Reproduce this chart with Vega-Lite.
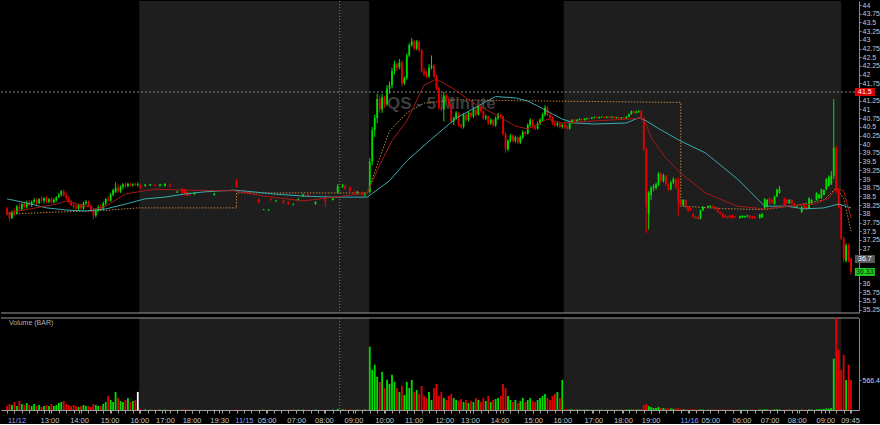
{
"$schema": "https://vega.github.io/schema/vega-lite/v6.json",
"background": "#000000",
"padding": 0,
"spacing": 3,
"config": {"view": {"stroke": null}, "font": "Liberation Sans", "axis": {"grid": false, "domainColor": "#8a8a8a", "tickColor": "#8a8a8a", "labelColor": "#c4c4c4", "labelFontSize": 7, "tickSize": 2, "labelPadding": 1, "labelOverlap": false, "labelFlush": false, "tickCount": 1000}},
"datasets": {
"sess": [{"a": 53.6, "b": 146.8}, {"a": 225.6, "b": 338}],
"tags": [{"p": 41.5, "txt": "41.5", "kind": "red"}, {"p": 36.7, "txt": "36.7", "kind": "gray"}, {"p": 36.33, "txt": "36.33", "kind": "green"}],
"sma": [{"t":0,"p":38.43},{"t":8,"p":38.31},{"t":16,"p":38.17},{"t":24,"p":38.11},{"t":32,"p":38.08},{"t":40,"p":38.14},{"t":48,"p":38.28},{"t":56,"p":38.43},{"t":64,"p":38.48},{"t":72,"p":38.57},{"t":80,"p":38.63},{"t":92,"p":38.68},{"t":100,"p":38.63},{"t":108,"p":38.57},{"t":120,"p":38.51},{"t":132,"p":38.48},{"t":146,"p":38.48},{"t":155,"p":38.95},{"t":162,"p":39.52},{"t":172,"p":40.15},{"t":182,"p":40.75},{"t":193,"p":41.18},{"t":198,"p":41.37},{"t":206,"p":41.33},{"t":211,"p":41.24},{"t":215,"p":41.1},{"t":221,"p":40.87},{"t":225,"p":40.72},{"t":230,"p":40.61},{"t":238,"p":40.58},{"t":251,"p":40.61},{"t":256,"p":40.76},{"t":259,"p":40.67},{"t":264,"p":40.45},{"t":273,"p":40.09},{"t":283,"p":39.75},{"t":296,"p":39.0},{"t":307,"p":38.22},{"t":316,"p":38.22},{"t":323,"p":38.14},{"t":331,"p":38.17},{"t":337,"p":38.28},{"t":342,"p":38.17}],
"ema": [{"t":0,"p":38.02},{"t":10,"p":38.15},{"t":20,"p":38.28},{"t":24,"p":38.37},{"t":32,"p":38.22},{"t":36,"p":38.14},{"t":40,"p":38.22},{"t":48,"p":38.57},{"t":60,"p":38.71},{"t":72,"p":38.68},{"t":92,"p":38.66},{"t":104,"p":38.51},{"t":120,"p":38.37},{"t":136,"p":38.51},{"t":146,"p":38.6},{"t":151,"p":39.4},{"t":156,"p":40.1},{"t":162,"p":40.67},{"t":169,"p":41.7},{"t":174,"p":41.87},{"t":181,"p":41.59},{"t":189,"p":41.18},{"t":198,"p":40.85},{"t":206,"p":40.52},{"t":211,"p":40.44},{"t":219,"p":40.72},{"t":225,"p":40.61},{"t":238,"p":40.67},{"t":251,"p":40.72},{"t":257,"p":40.75},{"t":259,"p":40.58},{"t":261,"p":40.18},{"t":267,"p":39.6},{"t":273,"p":39.17},{"t":283,"p":38.6},{"t":296,"p":38.22},{"t":307,"p":38.14},{"t":316,"p":38.22},{"t":327,"p":38.28},{"t":333,"p":38.45},{"t":336,"p":38.74},{"t":339,"p":38.66},{"t":342,"p":37.88}],
"vw": [{"k":0,"t":0,"p":37.99},{"k":1,"t":20,"p":38.05},{"k":2,"t":40,"p":38.1},{"k":3,"t":53,"p":38.17},{"k":4,"t":93,"p":38.17},{"k":5,"t":93,"p":38.6},{"k":6,"t":146,"p":38.6},{"k":7,"t":151,"p":39.6},{"k":8,"t":155,"p":40.38},{"k":9,"t":162,"p":40.9},{"k":10,"t":169,"p":41.18},{"k":11,"t":182,"p":41.28},{"k":12,"t":206,"p":41.25},{"k":13,"t":273,"p":41.2},{"k":14,"t":273,"p":38.22},{"k":15,"t":290,"p":38.15},{"k":16,"t":307,"p":38.12},{"k":17,"t":320,"p":38.25},{"k":18,"t":331,"p":38.4},{"k":19,"t":336,"p":38.74},{"k":20,"t":339,"p":38.45},{"k":21,"t":342,"p":37.5}],
"k": [
{"t":0,"o":38.15,"h":38.2,"l":37.95,"c":38.0,"v":76},
{"t":1,"o":38.0,"h":38.05,"l":37.8,"c":37.88,"v":114},
{"t":2,"o":37.88,"h":38.1,"l":37.85,"c":38.05,"v":95},
{"t":3,"o":38.05,"h":38.15,"l":37.95,"c":38.0,"v":152},
{"t":4,"o":38.0,"h":38.25,"l":37.98,"c":38.2,"v":76},
{"t":5,"o":38.2,"h":38.3,"l":38.1,"c":38.15,"v":171},
{"t":6,"o":38.12,"h":38.32,"l":38.1,"c":38.28,"v":114},
{"t":7,"o":38.28,"h":38.35,"l":38.15,"c":38.2,"v":95},
{"t":8,"o":38.2,"h":38.38,"l":38.15,"c":38.32,"v":133},
{"t":9,"o":38.32,"h":38.4,"l":38.22,"c":38.25,"v":95},
{"t":10,"o":38.25,"h":38.38,"l":38.2,"c":38.35,"v":76},
{"t":11,"o":38.35,"h":38.45,"l":38.3,"c":38.4,"v":114},
{"t":12,"o":38.4,"h":38.45,"l":38.25,"c":38.3,"v":76},
{"t":13,"o":38.3,"h":38.45,"l":38.28,"c":38.42,"v":95},
{"t":14,"o":38.42,"h":38.5,"l":38.35,"c":38.38,"v":57},
{"t":15,"o":38.38,"h":38.48,"l":38.3,"c":38.45,"v":76},
{"t":16,"o":38.45,"h":38.5,"l":38.3,"c":38.35,"v":95},
{"t":17,"o":38.35,"h":38.45,"l":38.3,"c":38.42,"v":76},
{"t":18,"o":38.42,"h":38.48,"l":38.3,"c":38.33,"v":114},
{"t":19,"o":38.33,"h":38.45,"l":38.3,"c":38.4,"v":76},
{"t":20,"o":38.4,"h":38.5,"l":38.35,"c":38.48,"v":95},
{"t":21,"o":38.48,"h":38.6,"l":38.45,"c":38.55,"v":133},
{"t":22,"o":38.55,"h":38.68,"l":38.5,"c":38.65,"v":152},
{"t":23,"o":38.65,"h":38.7,"l":38.5,"c":38.52,"v":171},
{"t":24,"o":38.52,"h":38.6,"l":38.4,"c":38.45,"v":114},
{"t":25,"o":38.45,"h":38.5,"l":38.3,"c":38.35,"v":95},
{"t":26,"o":38.35,"h":38.4,"l":38.22,"c":38.25,"v":76},
{"t":27,"o":38.25,"h":38.32,"l":38.15,"c":38.2,"v":95},
{"t":28,"o":38.2,"h":38.3,"l":38.12,"c":38.15,"v":76},
{"t":29,"o":38.15,"h":38.28,"l":38.1,"c":38.25,"v":57},
{"t":30,"o":38.25,"h":38.3,"l":38.12,"c":38.15,"v":76},
{"t":31,"o":38.15,"h":38.35,"l":38.12,"c":38.3,"v":95},
{"t":32,"o":38.3,"h":38.4,"l":38.25,"c":38.35,"v":76},
{"t":33,"o":38.35,"h":38.38,"l":38.2,"c":38.22,"v":76},
{"t":34,"o":38.22,"h":38.28,"l":38.05,"c":38.1,"v":57},
{"t":35,"o":38.1,"h":38.15,"l":37.85,"c":37.95,"v":114},
{"t":36,"o":37.95,"h":38.15,"l":37.9,"c":38.1,"v":95},
{"t":37,"o":38.1,"h":38.25,"l":38.05,"c":38.2,"v":76},
{"t":38,"o":38.2,"h":38.28,"l":38.1,"c":38.15,"v":76},
{"t":39,"o":38.15,"h":38.35,"l":38.12,"c":38.3,"v":114},
{"t":40,"o":38.3,"h":38.45,"l":38.25,"c":38.42,"v":152},
{"t":41,"o":38.42,"h":38.5,"l":38.35,"c":38.38,"v":266},
{"t":42,"o":38.38,"h":38.6,"l":38.35,"c":38.55,"v":190},
{"t":43,"o":38.55,"h":38.72,"l":38.5,"c":38.68,"v":152},
{"t":44,"o":38.62,"h":38.9,"l":38.6,"c":38.75,"v":342},
{"t":45,"o":38.75,"h":38.85,"l":38.6,"c":38.65,"v":228},
{"t":46,"o":38.65,"h":38.82,"l":38.6,"c":38.78,"v":171},
{"t":47,"o":38.78,"h":38.88,"l":38.7,"c":38.84,"v":152},
{"t":48,"o":38.84,"h":38.9,"l":38.75,"c":38.8,"v":190},
{"t":49,"o":38.8,"h":38.9,"l":38.76,"c":38.86,"v":228},
{"t":50,"o":38.86,"h":38.9,"l":38.78,"c":38.82,"v":152},
{"t":51,"o":38.82,"h":38.88,"l":38.78,"c":38.85,"v":171},
{"t":52,"o":38.85,"h":38.9,"l":38.8,"c":38.83,"v":190},
{"t":53,"o":38.83,"h":38.9,"l":38.78,"c":38.86,"v":342},
{"t":54,"o":38.82,"h":38.86,"l":38.7,"c":38.74,"v":19},
{"t":56,"o":38.8,"h":38.86,"l":38.78,"c":38.84,"v":10},
{"t":58,"o":38.82,"h":38.86,"l":38.8,"c":38.85,"v":8},
{"t":60,"o":38.84,"h":38.87,"l":38.8,"c":38.81,"v":8},
{"t":62,"o":38.8,"h":38.86,"l":38.78,"c":38.84,"v":8},
{"t":64,"o":38.8,"h":38.88,"l":38.78,"c":38.86,"v":10},
{"t":66,"o":38.84,"h":38.88,"l":38.76,"c":38.78,"v":8},
{"t":69,"o":38.61,"h":38.66,"l":38.6,"c":38.64,"v":6},
{"t":71,"o":38.72,"h":38.74,"l":38.58,"c":38.6,"v":10},
{"t":72,"o":38.7,"h":38.72,"l":38.52,"c":38.55,"v":10},
{"t":73,"o":38.64,"h":38.68,"l":38.5,"c":38.52,"v":8},
{"t":74,"o":38.58,"h":38.62,"l":38.5,"c":38.54,"v":6},
{"t":76,"o":38.56,"h":38.63,"l":38.54,"c":38.62,"v":6},
{"t":84,"o":38.54,"h":38.6,"l":38.52,"c":38.58,"v":6},
{"t":93,"o":38.95,"h":39.0,"l":38.75,"c":38.78,"v":12},
{"t":96,"o":38.65,"h":38.68,"l":38.6,"c":38.62,"v":6},
{"t":98,"o":38.64,"h":38.66,"l":38.58,"c":38.6,"v":6},
{"t":102,"o":38.42,"h":38.44,"l":38.3,"c":38.32,"v":8},
{"t":104,"o":38.11,"h":38.14,"l":38.1,"c":38.13,"v":6},
{"t":106,"o":38.1,"h":38.13,"l":38.08,"c":38.12,"v":6},
{"t":107,"o":38.42,"h":38.45,"l":38.38,"c":38.39,"v":6},
{"t":109,"o":38.36,"h":38.4,"l":38.34,"c":38.38,"v":6},
{"t":112,"o":38.38,"h":38.4,"l":38.28,"c":38.3,"v":8},
{"t":114,"o":38.34,"h":38.36,"l":38.26,"c":38.28,"v":8},
{"t":116,"o":38.26,"h":38.3,"l":38.24,"c":38.28,"v":6},
{"t":118,"o":38.38,"h":38.45,"l":38.36,"c":38.42,"v":8},
{"t":120,"o":38.5,"h":38.58,"l":38.48,"c":38.55,"v":10},
{"t":122,"o":38.55,"h":38.58,"l":38.48,"c":38.5,"v":8},
{"t":125,"o":38.28,"h":38.36,"l":38.26,"c":38.34,"v":8},
{"t":129,"o":38.42,"h":38.55,"l":38.2,"c":38.35,"v":10},
{"t":132,"o":38.4,"h":38.48,"l":38.38,"c":38.45,"v":10},
{"t":134,"o":38.6,"h":38.86,"l":38.58,"c":38.8,"v":20},
{"t":136,"o":38.78,"h":38.86,"l":38.74,"c":38.82,"v":15},
{"t":137,"o":38.8,"h":38.84,"l":38.7,"c":38.72,"v":12},
{"t":139,"o":38.75,"h":38.8,"l":38.62,"c":38.65,"v":12},
{"t":141,"o":38.62,"h":38.68,"l":38.55,"c":38.6,"v":10},
{"t":142,"o":38.6,"h":38.66,"l":38.55,"c":38.64,"v":10},
{"t":144,"o":38.62,"h":38.64,"l":38.52,"c":38.55,"v":10},
{"t":145,"o":38.55,"h":38.62,"l":38.5,"c":38.6,"v":12},
{"t":147,"o":38.62,"h":39.6,"l":38.58,"c":39.5,"v":1197},
{"t":148,"o":39.5,"h":40.5,"l":39.4,"c":40.4,"v":760},
{"t":149,"o":40.4,"h":40.85,"l":40.2,"c":40.75,"v":855},
{"t":150,"o":40.75,"h":41.45,"l":40.6,"c":41.3,"v":627},
{"t":151,"o":41.3,"h":41.4,"l":40.9,"c":41.0,"v":532},
{"t":152,"o":41.0,"h":41.45,"l":40.9,"c":41.35,"v":722},
{"t":153,"o":41.35,"h":41.4,"l":41.05,"c":41.15,"v":418},
{"t":154,"o":41.15,"h":41.7,"l":41.1,"c":41.6,"v":570},
{"t":155,"o":41.6,"h":41.8,"l":41.45,"c":41.7,"v":494},
{"t":156,"o":41.7,"h":42.2,"l":41.6,"c":42.1,"v":665},
{"t":157,"o":42.1,"h":42.4,"l":42.0,"c":42.3,"v":532},
{"t":158,"o":42.3,"h":42.35,"l":42.1,"c":42.2,"v":418},
{"t":159,"o":42.2,"h":42.45,"l":42.15,"c":42.35,"v":342},
{"t":160,"o":42.35,"h":42.4,"l":41.65,"c":41.75,"v":456},
{"t":161,"o":41.75,"h":41.95,"l":41.7,"c":41.9,"v":285},
{"t":162,"o":41.9,"h":42.6,"l":41.85,"c":42.55,"v":532},
{"t":163,"o":42.55,"h":42.9,"l":42.5,"c":42.85,"v":418},
{"t":164,"o":42.85,"h":43.05,"l":42.8,"c":42.95,"v":570},
{"t":165,"o":42.95,"h":43.0,"l":42.7,"c":42.75,"v":342},
{"t":166,"o":42.75,"h":43.0,"l":42.7,"c":42.95,"v":380},
{"t":167,"o":42.95,"h":42.98,"l":42.65,"c":42.7,"v":304},
{"t":168,"o":42.7,"h":42.75,"l":42.05,"c":42.1,"v":456},
{"t":169,"o":42.1,"h":42.2,"l":41.95,"c":42.0,"v":266},
{"t":170,"o":42.0,"h":42.1,"l":41.9,"c":41.95,"v":228},
{"t":171,"o":41.95,"h":42.3,"l":41.9,"c":42.2,"v":342},
{"t":172,"o":42.2,"h":42.55,"l":42.15,"c":42.25,"v":190},
{"t":173,"o":42.25,"h":42.3,"l":41.9,"c":41.95,"v":418},
{"t":174,"o":41.95,"h":42.0,"l":41.55,"c":41.6,"v":494},
{"t":175,"o":41.6,"h":41.65,"l":41.0,"c":41.05,"v":266},
{"t":176,"o":41.05,"h":41.45,"l":40.95,"c":41.0,"v":342},
{"t":177,"o":41.0,"h":41.5,"l":40.65,"c":41.4,"v":228},
{"t":178,"o":41.4,"h":41.45,"l":41.25,"c":41.3,"v":190},
{"t":179,"o":41.3,"h":41.35,"l":41.1,"c":41.15,"v":266},
{"t":180,"o":41.15,"h":41.2,"l":40.6,"c":40.65,"v":304},
{"t":181,"o":40.65,"h":40.8,"l":40.55,"c":40.75,"v":228},
{"t":182,"o":40.75,"h":40.95,"l":40.7,"c":40.9,"v":190},
{"t":183,"o":40.9,"h":40.92,"l":40.5,"c":40.55,"v":171},
{"t":184,"o":40.55,"h":40.6,"l":40.45,"c":40.5,"v":209},
{"t":185,"o":40.5,"h":40.9,"l":40.45,"c":40.85,"v":152},
{"t":186,"o":40.85,"h":40.88,"l":40.65,"c":40.7,"v":190},
{"t":187,"o":40.7,"h":40.95,"l":40.65,"c":40.9,"v":133},
{"t":188,"o":40.9,"h":40.93,"l":40.75,"c":40.8,"v":171},
{"t":189,"o":40.8,"h":41.05,"l":40.75,"c":41.0,"v":152},
{"t":190,"o":41.0,"h":41.02,"l":40.8,"c":40.85,"v":228},
{"t":191,"o":40.85,"h":41.12,"l":40.82,"c":41.1,"v":190},
{"t":192,"o":41.1,"h":41.12,"l":40.9,"c":40.95,"v":152},
{"t":193,"o":40.95,"h":40.98,"l":40.7,"c":40.75,"v":228},
{"t":194,"o":40.75,"h":40.85,"l":40.7,"c":40.8,"v":171},
{"t":195,"o":40.8,"h":40.82,"l":40.55,"c":40.6,"v":266},
{"t":196,"o":40.6,"h":40.75,"l":40.55,"c":40.7,"v":152},
{"t":197,"o":40.7,"h":40.72,"l":40.5,"c":40.55,"v":190},
{"t":198,"o":40.55,"h":40.8,"l":40.5,"c":40.75,"v":209},
{"t":199,"o":40.75,"h":40.9,"l":40.7,"c":40.85,"v":228},
{"t":200,"o":40.85,"h":40.88,"l":40.75,"c":40.8,"v":266},
{"t":201,"o":40.8,"h":40.82,"l":40.25,"c":40.3,"v":494},
{"t":202,"o":40.3,"h":40.35,"l":39.75,"c":39.85,"v":418},
{"t":203,"o":39.85,"h":40.15,"l":39.8,"c":40.1,"v":266},
{"t":204,"o":40.1,"h":40.3,"l":40.05,"c":40.25,"v":190},
{"t":205,"o":40.25,"h":40.28,"l":40.05,"c":40.1,"v":152},
{"t":206,"o":40.1,"h":40.25,"l":40.05,"c":40.2,"v":190},
{"t":207,"o":40.2,"h":40.22,"l":40.0,"c":40.05,"v":133},
{"t":208,"o":40.05,"h":40.25,"l":40.0,"c":40.2,"v":171},
{"t":209,"o":40.2,"h":40.4,"l":40.15,"c":40.35,"v":228},
{"t":210,"o":40.35,"h":40.38,"l":40.25,"c":40.3,"v":152},
{"t":211,"o":40.3,"h":40.6,"l":40.28,"c":40.55,"v":190},
{"t":212,"o":40.55,"h":40.75,"l":40.5,"c":40.7,"v":228},
{"t":213,"o":40.7,"h":40.72,"l":40.45,"c":40.5,"v":171},
{"t":214,"o":40.5,"h":40.55,"l":40.4,"c":40.45,"v":152},
{"t":215,"o":40.45,"h":40.65,"l":40.42,"c":40.6,"v":190},
{"t":216,"o":40.6,"h":40.75,"l":40.55,"c":40.7,"v":228},
{"t":217,"o":40.7,"h":40.9,"l":40.65,"c":40.85,"v":266},
{"t":218,"o":40.85,"h":41.12,"l":40.8,"c":41.05,"v":304},
{"t":219,"o":41.05,"h":41.1,"l":40.8,"c":40.85,"v":228},
{"t":220,"o":40.85,"h":40.9,"l":40.7,"c":40.75,"v":190},
{"t":221,"o":40.75,"h":40.8,"l":40.55,"c":40.6,"v":266},
{"t":222,"o":40.6,"h":40.65,"l":40.5,"c":40.55,"v":304},
{"t":223,"o":40.55,"h":40.65,"l":40.5,"c":40.6,"v":342},
{"t":224,"o":40.6,"h":40.62,"l":40.45,"c":40.5,"v":228},
{"t":225,"o":40.5,"h":40.6,"l":40.45,"c":40.55,"v":570},
{"t":226,"o":40.55,"h":40.6,"l":40.45,"c":40.5,"v":20},
{"t":227,"o":40.5,"h":40.55,"l":40.42,"c":40.45,"v":15},
{"t":228,"o":40.45,"h":40.62,"l":40.42,"c":40.6,"v":15},
{"t":229,"o":40.6,"h":40.72,"l":40.58,"c":40.7,"v":12},
{"t":230,"o":40.7,"h":40.72,"l":40.6,"c":40.65,"v":10},
{"t":231,"o":40.65,"h":40.72,"l":40.62,"c":40.7,"v":10},
{"t":232,"o":40.7,"h":40.75,"l":40.68,"c":40.72,"v":8},
{"t":233,"o":40.72,"h":40.74,"l":40.68,"c":40.7,"v":8},
{"t":234,"o":40.7,"h":40.75,"l":40.68,"c":40.73,"v":8},
{"t":235,"o":40.73,"h":40.76,"l":40.7,"c":40.75,"v":8},
{"t":236,"o":40.75,"h":40.77,"l":40.72,"c":40.73,"v":6},
{"t":237,"o":40.73,"h":40.78,"l":40.72,"c":40.76,"v":6},
{"t":238,"o":40.76,"h":40.8,"l":40.74,"c":40.78,"v":6},
{"t":239,"o":40.78,"h":40.79,"l":40.73,"c":40.75,"v":6},
{"t":240,"o":40.75,"h":40.8,"l":40.74,"c":40.78,"v":6},
{"t":241,"o":40.78,"h":40.8,"l":40.76,"c":40.79,"v":6},
{"t":242,"o":40.79,"h":40.8,"l":40.74,"c":40.76,"v":6},
{"t":243,"o":40.76,"h":40.8,"l":40.75,"c":40.79,"v":6},
{"t":244,"o":40.79,"h":40.8,"l":40.75,"c":40.76,"v":6},
{"t":245,"o":40.76,"h":40.8,"l":40.75,"c":40.79,"v":6},
{"t":246,"o":40.79,"h":40.8,"l":40.74,"c":40.75,"v":6},
{"t":247,"o":40.75,"h":40.79,"l":40.74,"c":40.78,"v":6},
{"t":248,"o":40.78,"h":40.79,"l":40.73,"c":40.74,"v":6},
{"t":249,"o":40.74,"h":40.78,"l":40.73,"c":40.77,"v":6},
{"t":250,"o":40.77,"h":40.78,"l":40.72,"c":40.74,"v":6},
{"t":251,"o":40.74,"h":40.8,"l":40.73,"c":40.79,"v":8},
{"t":252,"o":40.79,"h":40.88,"l":40.78,"c":40.86,"v":8},
{"t":253,"o":40.86,"h":40.97,"l":40.85,"c":40.95,"v":10},
{"t":254,"o":40.95,"h":40.97,"l":40.88,"c":40.9,"v":8},
{"t":255,"o":40.9,"h":40.96,"l":40.88,"c":40.94,"v":8},
{"t":256,"o":40.94,"h":40.98,"l":40.9,"c":40.96,"v":10},
{"t":257,"o":40.96,"h":40.97,"l":40.72,"c":40.75,"v":20},
{"t":258,"o":40.75,"h":40.78,"l":39.8,"c":39.85,"v":95},
{"t":259,"o":39.85,"h":39.9,"l":37.45,"c":38.2,"v":114},
{"t":260,"o":38.0,"h":38.65,"l":37.55,"c":38.6,"v":76},
{"t":261,"o":38.55,"h":38.8,"l":38.4,"c":38.75,"v":57},
{"t":262,"o":38.75,"h":38.85,"l":38.65,"c":38.8,"v":38},
{"t":263,"o":38.75,"h":38.9,"l":38.7,"c":38.85,"v":38},
{"t":264,"o":38.85,"h":39.2,"l":38.8,"c":39.15,"v":57},
{"t":265,"o":39.15,"h":39.18,"l":38.9,"c":38.95,"v":38},
{"t":266,"o":38.95,"h":39.15,"l":38.9,"c":39.1,"v":38},
{"t":267,"o":39.1,"h":39.12,"l":38.8,"c":38.85,"v":30},
{"t":268,"o":38.85,"h":38.88,"l":38.65,"c":38.7,"v":30},
{"t":269,"o":38.7,"h":38.95,"l":38.68,"c":38.9,"v":30},
{"t":270,"o":38.9,"h":39.05,"l":38.85,"c":39.0,"v":25},
{"t":271,"o":39.0,"h":39.02,"l":38.7,"c":38.75,"v":25},
{"t":272,"o":38.75,"h":39.05,"l":37.95,"c":38.35,"v":38},
{"t":273,"o":38.37,"h":38.4,"l":38.22,"c":38.28,"v":20},
{"t":274,"o":38.25,"h":38.42,"l":38.22,"c":38.4,"v":15},
{"t":275,"o":38.4,"h":38.42,"l":38.15,"c":38.2,"v":15},
{"t":276,"o":38.2,"h":38.22,"l":38.05,"c":38.1,"v":12},
{"t":277,"o":38.15,"h":38.17,"l":38.08,"c":38.12,"v":10},
{"t":278,"o":38.0,"h":38.02,"l":37.88,"c":37.9,"v":12},
{"t":279,"o":37.92,"h":37.95,"l":37.85,"c":37.87,"v":10},
{"t":280,"o":37.9,"h":37.92,"l":37.84,"c":37.86,"v":10},
{"t":281,"o":37.86,"h":38.12,"l":37.84,"c":38.1,"v":12},
{"t":282,"o":38.1,"h":38.22,"l":38.08,"c":38.2,"v":10},
{"t":284,"o":38.18,"h":38.24,"l":38.16,"c":38.22,"v":6},
{"t":285,"o":38.2,"h":38.24,"l":38.18,"c":38.23,"v":6},
{"t":286,"o":38.22,"h":38.24,"l":38.18,"c":38.19,"v":6},
{"t":287,"o":38.2,"h":38.22,"l":38.12,"c":38.15,"v":8},
{"t":288,"o":38.17,"h":38.18,"l":38.03,"c":38.05,"v":8},
{"t":289,"o":38.05,"h":38.07,"l":37.98,"c":38.0,"v":6},
{"t":290,"o":38.0,"h":38.02,"l":37.88,"c":37.9,"v":8},
{"t":291,"o":37.95,"h":37.97,"l":37.88,"c":37.9,"v":6},
{"t":292,"o":37.92,"h":37.94,"l":37.86,"c":37.88,"v":6},
{"t":293,"o":37.95,"h":37.97,"l":37.88,"c":37.9,"v":6},
{"t":294,"o":37.96,"h":37.98,"l":37.86,"c":37.88,"v":6},
{"t":295,"o":37.92,"h":37.94,"l":37.88,"c":37.9,"v":6},
{"t":297,"o":37.88,"h":37.95,"l":37.86,"c":37.93,"v":6},
{"t":298,"o":37.9,"h":37.96,"l":37.88,"c":37.94,"v":6},
{"t":299,"o":37.9,"h":37.95,"l":37.88,"c":37.93,"v":6},
{"t":300,"o":37.92,"h":37.97,"l":37.9,"c":37.95,"v":6},
{"t":301,"o":37.95,"h":37.96,"l":37.86,"c":37.88,"v":6},
{"t":302,"o":37.92,"h":37.93,"l":37.85,"c":37.87,"v":6},
{"t":303,"o":37.93,"h":37.94,"l":37.86,"c":37.88,"v":6},
{"t":305,"o":37.88,"h":38.0,"l":37.86,"c":37.98,"v":10},
{"t":306,"o":37.9,"h":38.02,"l":37.88,"c":38.0,"v":10},
{"t":307,"o":38.15,"h":38.45,"l":38.12,"c":38.42,"v":15},
{"t":308,"o":38.2,"h":38.42,"l":38.18,"c":38.4,"v":12},
{"t":309,"o":38.45,"h":38.47,"l":38.28,"c":38.3,"v":10},
{"t":310,"o":38.4,"h":38.42,"l":38.3,"c":38.32,"v":10},
{"t":311,"o":38.28,"h":38.52,"l":38.26,"c":38.5,"v":12},
{"t":312,"o":38.5,"h":38.72,"l":38.48,"c":38.7,"v":15},
{"t":313,"o":38.6,"h":38.8,"l":38.58,"c":38.72,"v":12},
{"t":315,"o":38.45,"h":38.47,"l":38.23,"c":38.25,"v":10},
{"t":316,"o":38.4,"h":38.42,"l":38.28,"c":38.3,"v":10},
{"t":317,"o":38.3,"h":38.42,"l":38.28,"c":38.4,"v":8},
{"t":318,"o":38.4,"h":38.42,"l":38.28,"c":38.3,"v":8},
{"t":319,"o":38.3,"h":38.32,"l":38.15,"c":38.17,"v":8},
{"t":320,"o":38.2,"h":38.24,"l":38.18,"c":38.22,"v":6},
{"t":322,"o":38.05,"h":38.22,"l":38.03,"c":38.2,"v":8},
{"t":323,"o":38.28,"h":38.3,"l":38.12,"c":38.14,"v":8},
{"t":324,"o":38.2,"h":38.22,"l":38.13,"c":38.15,"v":8},
{"t":325,"o":38.15,"h":38.47,"l":38.13,"c":38.45,"v":12},
{"t":326,"o":38.3,"h":38.42,"l":38.28,"c":38.4,"v":10},
{"t":328,"o":38.4,"h":38.62,"l":38.38,"c":38.6,"v":15},
{"t":329,"o":38.45,"h":38.57,"l":38.43,"c":38.55,"v":15},
{"t":330,"o":38.45,"h":38.72,"l":38.43,"c":38.7,"v":20},
{"t":331,"o":38.55,"h":38.7,"l":38.53,"c":38.68,"v":20},
{"t":332,"o":38.7,"h":39.02,"l":38.68,"c":39.0,"v":30},
{"t":333,"o":38.8,"h":39.1,"l":38.78,"c":39.05,"v":30},
{"t":334,"o":38.85,"h":39.23,"l":38.83,"c":39.1,"v":38},
{"t":335,"o":39.1,"h":41.3,"l":39.0,"c":39.9,"v":970},
{"t":336,"o":39.9,"h":39.95,"l":38.6,"c":38.65,"v":1740},
{"t":337,"o":38.7,"h":38.75,"l":38.15,"c":38.2,"v":1140},
{"t":338,"o":38.2,"h":38.25,"l":37.25,"c":37.3,"v":760},
{"t":339,"o":37.3,"h":37.35,"l":36.6,"c":36.7,"v":1045},
{"t":340,"o":36.65,"h":37.15,"l":36.6,"c":37.1,"v":570},
{"t":341,"o":37.1,"h":37.15,"l":36.6,"c":36.65,"v":855},
{"t":342,"o":36.7,"h":36.75,"l":36.25,"c":36.33,"v":566.4}
]
},
"vconcat": [
{
"width": 858, "height": 312,
"layer": [
{"data": {"name": "sess"}, "mark": {"type": "rect", "color": "#1e1e1e"},
 "encoding": {"x": {"field": "a", "type": "quantitative", "scale": {"domain": [-0.4, 343.2], "nice": false, "zero": false}, "axis": null}, "x2": {"field": "b"}}},
{"data": {"values": [{}]}, "mark": {"type": "rule", "color": "#7a7a7a", "strokeDash": [1, 2], "strokeWidth": 1},
 "encoding": {"x": {"datum": 134.8, "type": "quantitative", "axis": null}}},
{"data": {"values": [{}]}, "mark": {"type": "rule", "color": "#8a8a8a", "strokeDash": [2, 2], "strokeWidth": 1},
 "encoding": {"y": {"datum": 41.5, "type": "quantitative", "scale": {"domain": [35.15, 44.115], "nice": false, "zero": false},
   "axis": {"orient": "right", "title": null, "values": [35.25,35.5,35.75,36,37,37.25,37.5,37.75,38,38.25,38.5,38.75,39,39.25,39.5,39.75,40,40.25,40.5,40.75,41,41.25,41.75,42,42.25,42.5,42.75,43,43.25,43.5,43.75,44], "tickCount": 1000, "format": ".4~r", "labelFontSize": 7, "labelColor": "#c8c8c8", "tickSize": 2, "labelPadding": 1, "domainColor": "#8a8a8a", "labelBaseline": "middle", "labelOverlap": false}}}},
{"data": {"values": [{}]}, "mark": {"type": "rule", "color": "#9a9a9a", "strokeWidth": 1},
 "encoding": {"y": {"datum": 35.15, "type": "quantitative", "title": null}}},
{"data": {"values": [{}]}, "mark": {"type": "text", "text": "QS - 5 Minute", "fontSize": 17, "fontWeight": "bold", "color": "#3d3d3d", "align": "center", "baseline": "middle"},
 "encoding": {"x": {"datum": 176, "type": "quantitative", "axis": null}, "y": {"datum": 41.15, "type": "quantitative", "title": null}}},
{"data": {"name": "vw"}, "mark": {"type": "line", "color": "#c08040", "strokeWidth": 1, "strokeDash": [1.5, 1.5]},
 "encoding": {"x": {"field": "t", "type": "quantitative", "axis": null}, "y": {"field": "p", "type": "quantitative", "title": null}, "order": {"field": "k"}}},
{"data": {"name": "k"}, "mark": {"type": "rule", "strokeWidth": 1},
 "encoding": {"x": {"field": "t", "type": "quantitative", "axis": null}, "y": {"field": "l", "type": "quantitative", "title": null}, "y2": {"field": "h"},
   "color": {"condition": {"test": "datum.c >= datum.o", "value": "#00dd00"}, "value": "#e60000"}}},
{"data": {"name": "k"}, "mark": {"type": "bar", "width": 1.8},
 "encoding": {"x": {"field": "t", "type": "quantitative", "axis": null}, "y": {"field": "o", "type": "quantitative", "title": null}, "y2": {"field": "c"},
   "color": {"condition": {"test": "datum.c >= datum.o", "value": "#00dd00"}, "value": "#e60000"}}},
{"data": {"name": "sma"}, "mark": {"type": "line", "color": "#3aaab0", "strokeWidth": 1},
 "encoding": {"x": {"field": "t", "type": "quantitative", "axis": null}, "y": {"field": "p", "type": "quantitative", "title": null}}},
{"data": {"name": "ema"}, "mark": {"type": "line", "color": "#a81818", "strokeWidth": 1},
 "encoding": {"x": {"field": "t", "type": "quantitative", "axis": null}, "y": {"field": "p", "type": "quantitative", "title": null}}},
{"data": {"name": "tags"}, "mark": {"type": "point", "shape": "M-1,-0.4H1V0.4H-1Z", "filled": true, "size": 400, "opacity": 1},
 "encoding": {"x": {"datum": 347.6, "type": "quantitative", "axis": null}, "y": {"field": "p", "type": "quantitative", "title": null},
   "color": {"field": "kind", "type": "nominal", "scale": {"domain": ["red", "gray", "green"], "range": ["#e00000", "#5a5a5a", "#22cc22"]}, "legend": null}}},
{"data": {"name": "tags"}, "mark": {"type": "text", "fontSize": 7, "align": "center", "baseline": "middle"},
 "encoding": {"x": {"datum": 347.6, "type": "quantitative", "axis": null}, "y": {"field": "p", "type": "quantitative", "title": null}, "text": {"field": "txt"},
   "color": {"condition": {"test": "datum.kind == 'green'", "value": "#002a00"}, "value": "#ffffff"}}}
]
},
{
"width": 858, "height": 92,
"layer": [
{"data": {"name": "sess"}, "mark": {"type": "rect", "color": "#1e1e1e"},
 "encoding": {"x": {"field": "a", "type": "quantitative", "scale": {"domain": [-0.4, 343.2], "nice": false, "zero": false}, "title": null}, "x2": {"field": "b"}}},
{"data": {"values": [{}]}, "mark": {"type": "rule", "color": "#7a7a7a", "strokeDash": [1, 2], "strokeWidth": 1},
 "encoding": {"x": {"datum": 134.8, "type": "quantitative", "title": null}}},
{"data": {"values": [{}]}, "mark": {"type": "rule", "color": "#9a9a9a", "strokeWidth": 1},
 "encoding": {"y": {"datum": 1740, "type": "quantitative", "title": null}}},
{"data": {"name": "k"}, "mark": {"type": "bar", "width": 1.8},
 "encoding": {"x": {"field": "t", "type": "quantitative", "title": null,
   "axis": {"orient": "bottom", "title": null, "tickCount": 1000,
     "values": [0.2,17.2,29.2,41.6,53.6,64,74.8,86,96,105.2,117.2,128.4,140.4,152.8,164.8,177.2,187.6,199.6,213.2,225,237.6,249.6,260.8,276.4,285,297.6,309,320,331.6,341.6,3,6,9,12,15,18,21,24,27,30,33,36,39,42,45,48,51,54,57,60,63,66,69,72,75,78,81,84,87,90,93,99,102,105,108,111,114,117,120,123,126,129,132,135,138,141,144,147,150,153,156,159,162,165,168,171,174,177,180,183,186,189,192,195,198,201,204,207,210,213,216,219,222,228,231,234,237,240,243,246,249,252,255,258,261,264,267,270,273,276,279,282,288,291,294,297,300,303,306,312,315,318,321,324,327,330,333,336,339,342],
     "labelExpr": "indexof([0.2,17.2,29.2,41.6,53.6,64,74.8,86,96,105.2,117.2,128.4,140.4,152.8,164.8,177.2,187.6,199.6,213.2,225,237.6,249.6,260.8,276.4,285,297.6,309,320,331.6,341.6], datum.value) >= 0 ? ['11/12','13:00','14:00','15:00','16:00','17:00','18:00','19:30','11/15','05:00','07:00','08:00','09:00','10:00','11:00','12:00','13:00','14:00','15:00','16:00','17:00','18:00','19:00','11/16','05:00','06:00','07:00','08:00','09:00','09:45'][indexof([0.2,17.2,29.2,41.6,53.6,64,74.8,86,96,105.2,117.2,128.4,140.4,152.8,164.8,177.2,187.6,199.6,213.2,225,237.6,249.6,260.8,276.4,285,297.6,309,320,331.6,341.6], datum.value)] : ''",
     "labelFontSize": 7.5, "labelColor": {"condition": {"test": "indexof([0.2,96,276.4], datum.value) >= 0", "value": "#8a9cff"}, "value": "#c4c4c4"},
     "labelAlign": {"condition": {"test": "datum.value == 0.2", "value": "left"}, "value": "center"},
     "tickColor": "#a0a0a0", "tickSize": 3, "domainColor": "#a0a0a0", "labelPadding": 3, "labelOverlap": false, "labelFlush": false}},
   "y": {"field": "v", "type": "quantitative", "scale": {"domain": [0, 1740], "nice": false, "zero": true},
     "axis": {"orient": "right", "title": null, "values": [566.4], "tickCount": 1000, "format": ".1f", "labelColor": "#c8d0ff", "labelFontSize": 7, "domainColor": "#8a8a8a", "tickSize": 2, "labelPadding": 1}},
   "color": {"condition": [{"test": "datum.t == 53", "value": "#ffffff"}, {"test": "datum.c >= datum.o", "value": "#00dd00"}], "value": "#e60000"}}},
{"data": {"values": [{}]}, "mark": {"type": "text", "text": "Volume (BAR)", "fontSize": 7, "color": "#b0b0b0", "align": "left", "baseline": "middle"},
 "encoding": {"x": {"datum": 0.8, "type": "quantitative", "title": null}, "y": {"datum": 1640, "type": "quantitative", "title": null}}}
]
}
]
}
